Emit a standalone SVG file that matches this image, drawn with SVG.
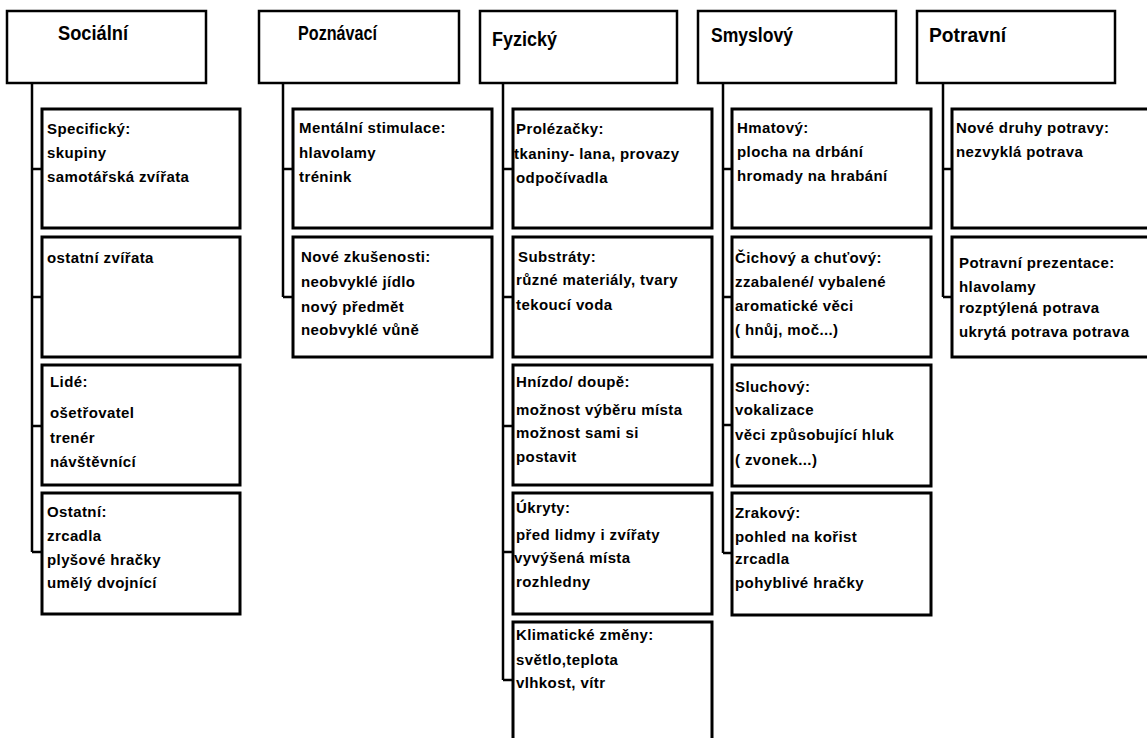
<svg xmlns="http://www.w3.org/2000/svg" width="1147" height="738" viewBox="0 0 1147 738">
<style>
.hb{fill:#fff;stroke:#000;stroke-width:2.5}
.cb{fill:#fff;stroke:#000;stroke-width:3}
.ht{font-family:"Liberation Sans",Arial,sans-serif;font-weight:bold;font-size:20px;fill:#000}
.t{font-family:"Liberation Sans",Arial,sans-serif;font-weight:bold;font-size:15px;letter-spacing:0.4px;fill:#000}
.c{fill:none;stroke:#000;stroke-width:2.5}
</style>
<rect width="1147" height="738" fill="#fff"/>
<g id="connectors">
<path class="c" d="M32 83V552M32 169H42M32 297H42M32 426H42M32 552H42"/>
<path class="c" d="M283 83V297M283 169H293M283 297H293"/>
<path class="c" d="M503 83V680M503 169H513M503 297H513M503 426H513M503 552H513M503 680H513"/>
<path class="c" d="M723 83V553M723 169H732M723 297H732M723 425H732M723 553H732"/>
<path class="c" d="M943 83V297M943 169H952M943 297H952"/>
</g>
<g id="h-socialni"><rect class="hb" x="7" y="11" width="199" height="72"/><text class="ht" x="58" y="40" textLength="70" lengthAdjust="spacingAndGlyphs">Sociální</text></g>
<g id="h-poznavaci"><rect class="hb" x="259" y="11" width="200" height="72"/><text class="ht" x="298" y="40" textLength="79" lengthAdjust="spacingAndGlyphs">Poznávací</text></g>
<g id="h-fyzicky"><rect class="hb" x="480" y="11" width="197" height="72"/><text class="ht" x="492" y="46" textLength="65" lengthAdjust="spacingAndGlyphs">Fyzický</text></g>
<g id="h-smyslovy"><rect class="hb" x="698" y="11" width="198" height="72"/><text class="ht" x="711" y="42" textLength="82" lengthAdjust="spacingAndGlyphs">Smyslový</text></g>
<g id="h-potravni"><rect class="hb" x="917" y="11" width="198" height="72"/><text class="ht" x="929" y="42" textLength="77" lengthAdjust="spacingAndGlyphs">Potravní</text></g>

<g id="s1"><rect class="cb" x="42" y="109" width="198" height="119"/><text class="t" x="47" y="134">Specifický:</text><text class="t" x="47" y="158">skupiny</text><text class="t" x="47" y="182">samotářská zvířata</text></g>
<g id="s2"><rect class="cb" x="42" y="237" width="198" height="120"/><text class="t" x="47" y="263">ostatní zvířata</text></g>
<g id="s3"><rect class="cb" x="42" y="365" width="198" height="120"/><text class="t" x="50" y="387">Lidé:</text><text class="t" x="50" y="418">ošetřovatel</text><text class="t" x="50" y="443">trenér</text><text class="t" x="50" y="467">návštěvnící</text></g>
<g id="s4"><rect class="cb" x="42" y="493" width="198" height="121"/><text class="t" x="47" y="517">Ostatní:</text><text class="t" x="47" y="541">zrcadla</text><text class="t" x="47" y="565">plyšové hračky</text><text class="t" x="47" y="588">umělý dvojnící</text></g>

<g id="p1"><rect class="cb" x="293" y="109" width="199" height="119"/><text class="t" x="299" y="133">Mentální stimulace:</text><text class="t" x="299" y="158">hlavolamy</text><text class="t" x="299" y="182">trénink</text></g>
<g id="p2"><rect class="cb" x="293" y="237" width="199" height="120"/><text class="t" x="301" y="262">Nové zkušenosti:</text><text class="t" x="301" y="287">neobvyklé jídlo</text><text class="t" x="301" y="312">nový předmět</text><text class="t" x="301" y="335">neobvyklé vůně</text></g>

<g id="f1"><rect class="cb" x="513" y="109" width="199" height="119"/><text class="t" x="516" y="134">Prolézačky:</text><text class="t" x="514" y="159">tkaniny- lana, provazy</text><text class="t" x="516" y="183">odpočívadla</text></g>
<g id="f2"><rect class="cb" x="513" y="237" width="199" height="120"/><text class="t" x="518" y="262">Substráty:</text><text class="t" x="516" y="285">různé materiály, tvary</text><text class="t" x="516" y="310">tekoucí voda</text></g>
<g id="f3"><rect class="cb" x="513" y="365" width="199" height="120"/><text class="t" x="516" y="387">Hnízdo/ doupě:</text><text class="t" x="516" y="415">možnost výběru místa</text><text class="t" x="516" y="438">možnost sami si</text><text class="t" x="516" y="462">postavit</text></g>
<g id="f4"><rect class="cb" x="513" y="493" width="199" height="121"/><text class="t" x="516" y="513">Úkryty:</text><text class="t" x="516" y="540">před lidmy i zvířaty</text><text class="t" x="514" y="563">vyvýšená místa</text><text class="t" x="516" y="587">rozhledny</text></g>
<g id="f5"><rect class="cb" x="513" y="622" width="199" height="125"/><text class="t" x="516" y="640">Klimatické změny:</text><text class="t" x="516" y="665">světlo,teplota</text><text class="t" x="516" y="688">vlhkost, vítr</text></g>

<g id="m1"><rect class="cb" x="732" y="109" width="199" height="119"/><text class="t" x="737" y="133">Hmatový:</text><text class="t" x="737" y="157">plocha na drbání</text><text class="t" x="737" y="181">hromady na hrabání</text></g>
<g id="m2"><rect class="cb" x="732" y="237" width="199" height="120"/><text class="t" x="735" y="263">Čichový a chuťový:</text><text class="t" x="735" y="287">zzabalené/ vybalené</text><text class="t" x="735" y="311">aromatické věci</text><text class="t" x="735" y="335">( hnůj, moč...)</text></g>
<g id="m3"><rect class="cb" x="732" y="365" width="199" height="121"/><text class="t" x="735" y="392">Sluchový:</text><text class="t" x="735" y="415">vokalizace</text><text class="t" x="735" y="440">věci způsobující hluk</text><text class="t" x="735" y="465">( zvonek...)</text></g>
<g id="m4"><rect class="cb" x="732" y="493" width="199" height="122"/><text class="t" x="735" y="518">Zrakový:</text><text class="t" x="735" y="542">pohled na kořist</text><text class="t" x="735" y="564">zrcadla</text><text class="t" x="735" y="588">pohyblivé hračky</text></g>

<g id="v1"><rect class="cb" x="952" y="109" width="199" height="119"/><text class="t" x="956" y="133">Nové druhy potravy:</text><text class="t" x="956" y="157">nezvyklá potrava</text></g>
<g id="v2"><rect class="cb" x="952" y="237" width="199" height="120"/><text class="t" x="959" y="268">Potravní prezentace:</text><text class="t" x="959" y="292">hlavolamy</text><text class="t" x="959" y="313">rozptýlená potrava</text><text class="t" x="959" y="337">ukrytá potrava potrava</text></g>
</svg>
